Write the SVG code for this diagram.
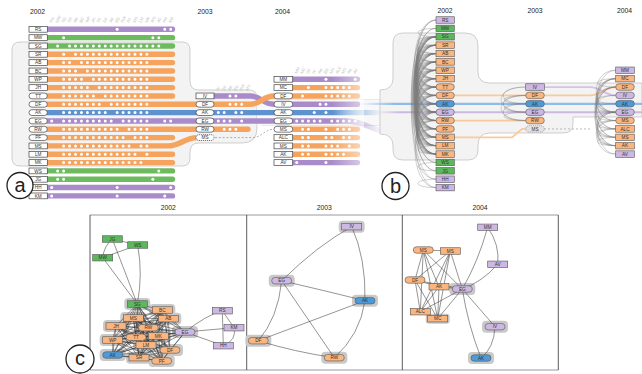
<svg xmlns="http://www.w3.org/2000/svg" width="642" height="374" viewBox="0 0 642 374">
<style>
text{font-family:"Liberation Sans",Arial,sans-serif}
.yr{font-size:6.8px;fill:#222}
.lb{font-size:4.7px;fill:#333;text-anchor:middle}
.cl{font-size:4px;fill:#b8b8b8}
.box{fill:#fff;stroke:#444;stroke-width:.7}
.bar{fill:none;stroke-width:5.4;stroke-linecap:round}
.pu{stroke:#a98bc9}.gr{stroke:#6dbb5e}.or{stroke:#f6a35e}.bl{stroke:#5d92cf}
.d1 path{fill:none;stroke:#fff;stroke-width:3;stroke-linecap:round;stroke-dasharray:0 5.95}
.d2 path{fill:none;stroke:#fff;stroke-width:3;stroke-linecap:round;stroke-dasharray:0 5.85}
.dots circle{fill:#fff}
.n{stroke:#555;stroke-width:.6}
.np{fill:#ccb8e2}.ng{fill:#5cb85c}.no{fill:#fbb57e}.nb{fill:#4e9ad9}
.halo rect{fill:#c9c9c9}
.arc{fill:none;stroke:#7a7a7a;stroke-width:.4;stroke-opacity:.85}
.edge{fill:none;stroke:#2a2a2a;stroke-width:.5}
.reg{fill:#f3f3f3;stroke:#bcbcbc;stroke-width:.7}
.circ{fill:#fff;stroke:#222;stroke-width:1.3}
.big{font-size:20px;fill:#222;text-anchor:middle}
.ln{fill:none}
</style>
<defs>
<linearGradient id="gAK" gradientUnits="userSpaceOnUse" x1="335" y1="0" x2="382" y2="0"><stop offset="0" stop-color="#5d92cf"/><stop offset="1" stop-color="#5d92cf" stop-opacity="0"/></linearGradient>
<linearGradient id="gEG" gradientUnits="userSpaceOnUse" x1="335" y1="0" x2="385" y2="0"><stop offset="0" stop-color="#a98bc9"/><stop offset="1" stop-color="#a98bc9" stop-opacity="0"/></linearGradient>
<linearGradient id="fw" x1="0" y1="0" x2="1" y2="0"><stop offset="0" stop-color="#fff" stop-opacity="0"/><stop offset="1" stop-color="#fff" stop-opacity=".6"/></linearGradient>
<linearGradient id="gAKb" gradientUnits="userSpaceOnUse" x1="360" y1="0" x2="395" y2="0"><stop offset="0" stop-color="#8fbbe6" stop-opacity="0"/><stop offset="1" stop-color="#8fbbe6"/></linearGradient>
<linearGradient id="gEGb" gradientUnits="userSpaceOnUse" x1="375" y1="0" x2="400" y2="0"><stop offset="0" stop-color="#cdb9e0" stop-opacity="0"/><stop offset="1" stop-color="#cdb9e0"/></linearGradient>
<path id="a1" d="M0,0C-24,0 -24,8.38 0,8.38"/>
<path id="a2" d="M0,0C-24,0 -24,16.76 0,16.76"/>
<path id="a3" d="M0,0C-25,0 -25,25.14 0,25.14"/>
<path id="a4" d="M0,0C-25,0 -25,33.52 0,33.52"/>
<path id="a5" d="M0,0C-26,0 -26,41.9 0,41.9"/>
<path id="a6" d="M0,0C-26,0 -26,50.28 0,50.28"/>
<path id="a7" d="M0,0C-27,0 -27,58.66 0,58.66"/>
<path id="a8" d="M0,0C-27,0 -27,67.04 0,67.04"/>
<path id="a9" d="M0,0C-28,0 -28,75.42 0,75.42"/>
<path id="a10" d="M0,0C-28,0 -28,83.8 0,83.8"/>
<path id="a11" d="M0,0C-29,0 -29,92.18 0,92.18"/>
<path id="a12" d="M0,0C-29,0 -29,100.56 0,100.56"/>
<path id="a13" d="M0,0C-30,0 -30,108.94 0,108.94"/>
<path id="a14" d="M0,0C-30,0 -30,117.32 0,117.32"/>
<path id="a15" d="M0,0C-31,0 -31,125.7 0,125.7"/>
<path id="a16" d="M0,0C-31,0 -31,134.08 0,134.08"/>
<path id="a17" d="M0,0C-32,0 -32,142.46 0,142.46"/>
<path id="a19" d="M0,0C-33,0 -33,159.22 0,159.22"/>
<path id="a20" d="M0,0C-33,0 -33,167.6 0,167.6"/>
<g id="f1"><use href="#a1"/></g>
<g id="f2"><use href="#f1"/><use href="#a2"/></g>
<g id="f3"><use href="#f2"/><use href="#a3"/></g>
<g id="f4"><use href="#f3"/><use href="#a4"/></g>
<g id="f5"><use href="#f4"/><use href="#a5"/></g>
<g id="f6"><use href="#f5"/><use href="#a6"/></g>
<g id="f7"><use href="#f6"/><use href="#a7"/></g>
<g id="f8"><use href="#f7"/><use href="#a8"/></g>
<g id="f9"><use href="#f8"/><use href="#a9"/></g>
<g id="f10"><use href="#f9"/><use href="#a10"/></g>
<g id="f11"><use href="#f10"/><use href="#a11"/></g>
<g id="f12"><use href="#f11"/><use href="#a12"/></g>
<g id="f13"><use href="#f12"/><use href="#a13"/></g>
<g id="f14"><use href="#f13"/><use href="#a14"/></g>
</defs>

<!-- ===== PANEL A ===== -->
<g id="panel-a">
<path class="reg" d="M20,42H182Q190,42 190,50V81Q190,90 199,90H249Q257,90 257,98V128Q257,143 242,143H199Q190,143 190,152V158Q190,166 182,166H20Q12,166 12,158V50Q12,42 20,42Z"/>
<rect x="257" y="99.5" width="125" height="26" fill="#f8f8f8"/>
<path d="M257,99.5H382M262,125.5H382" stroke="#dedede" stroke-width=".6" fill="none"/>
<text class="yr" x="30" y="14">2002</text>
<text class="yr" x="197.5" y="14">2003</text>
<text class="yr" x="275" y="14">2004</text>
<g id="a-collabels">
<text class="cl" transform="translate(51.7,23) rotate(-60)">RS</text>
<text class="cl" transform="translate(57.65,23) rotate(-60)">MW</text>
<text class="cl" transform="translate(63.6,23) rotate(-60)">SG</text>
<text class="cl" transform="translate(69.55,23) rotate(-60)">SR</text>
<text class="cl" transform="translate(75.5,23) rotate(-60)">AB</text>
<text class="cl" transform="translate(81.45,23) rotate(-60)">BC</text>
<text class="cl" transform="translate(87.4,23) rotate(-60)">WP</text>
<text class="cl" transform="translate(93.35,23) rotate(-60)">JH</text>
<text class="cl" transform="translate(99.3,23) rotate(-60)">TT</text>
<text class="cl" transform="translate(105.25,23) rotate(-60)">DF</text>
<text class="cl" transform="translate(111.2,23) rotate(-60)">AK</text>
<text class="cl" transform="translate(117.15,23) rotate(-60)">EG</text>
<text class="cl" transform="translate(123.1,23) rotate(-60)">RW</text>
<text class="cl" transform="translate(129.05,23) rotate(-60)">PF</text>
<text class="cl" transform="translate(135,23) rotate(-60)">MS</text>
<text class="cl" transform="translate(140.95,23) rotate(-60)">LM</text>
<text class="cl" transform="translate(146.9,23) rotate(-60)">MK</text>
<text class="cl" transform="translate(152.85,23) rotate(-60)">WS</text>
<text class="cl" transform="translate(158.8,23) rotate(-60)">JG</text>
<text class="cl" transform="translate(164.75,23) rotate(-60)">HH</text>
<text class="cl" transform="translate(170.7,23) rotate(-60)">KM</text>
<text class="cl" transform="translate(218.3,91) rotate(-60)">IV</text>
<text class="cl" transform="translate(224.15,91) rotate(-60)">DF</text>
<text class="cl" transform="translate(230,91) rotate(-60)">AK</text>
<text class="cl" transform="translate(235.85,91) rotate(-60)">EG</text>
<text class="cl" transform="translate(241.7,91) rotate(-60)">RW</text>
<text class="cl" transform="translate(247.55,91) rotate(-60)">MS</text>
<text class="cl" transform="translate(296.7,74) rotate(-60)">MM</text>
<text class="cl" transform="translate(302.55,74) rotate(-60)">MC</text>
<text class="cl" transform="translate(308.4,74) rotate(-60)">DF</text>
<text class="cl" transform="translate(314.25,74) rotate(-60)">IV</text>
<text class="cl" transform="translate(320.1,74) rotate(-60)">AK</text>
<text class="cl" transform="translate(325.95,74) rotate(-60)">EG</text>
<text class="cl" transform="translate(331.8,74) rotate(-60)">MS</text>
<text class="cl" transform="translate(337.65,74) rotate(-60)">ALC</text>
<text class="cl" transform="translate(343.5,74) rotate(-60)">MS</text>
<text class="cl" transform="translate(349.35,74) rotate(-60)">AK</text>
<text class="cl" transform="translate(355.2,74) rotate(-60)">AV</text>
</g>
<g id="a-connectors">
<path class="bar pu" d="M47,29.3H172.5M47,187.57H172.5M47,195.9H172.5M292,79.28H357.5M292,162.58H357.5"/>
<path class="bar gr" d="M47,37.63H172.5M47,45.96H172.5M47,170.91H172.5M47,179.24H172.5"/>
<path class="bar or" d="M47,54.29H172.5M47,62.62H172.5M47,70.95H172.5M47,79.28H172.5M47,87.61H172.5M47,95.94H172.5M47,137.59H172.5M47,154.25H172.5M47,162.58H172.5M292,87.61H357.5M292,129.26H357.5M292,137.59H357.5M292,145.92H357.5M292,154.25H357.5"/>
<path class="bar or" d="M47,129.26H248"/>
<path class="bar or" d="M47,145.92H168C180,145.92 185,137.59 197,137.59"/>
<path class="bar pu" d="M200,95.94H250C262,95.94 262,104.27 274,104.27H357.5"/>
<path class="bar or" d="M47,104.27H250C262,104.27 262,95.94 274,95.94H357.5"/>
<path class="bar" stroke="url(#gAK)" d="M47,112.6H382"/>
<path class="bar" stroke="url(#gEG)" d="M47,120.93H346C359,120.93 366,126 385,132.5"/>
<path d="M215,137.59H252C262,137.59 264,129.26 274,129.26" fill="none" stroke="#9a9a9a" stroke-width=".8" stroke-dasharray="2 1.8"/>
</g>
<g class="d1">
<path d="M164.75,29.3H170.85"/><path d="M152.85,37.63H158.9"/><path d="M69.55,45.96H158.9"/>
<path d="M75.5,54.29H147"/>
<path d="M63.6,62.62H69.65"/><path d="M81.45,62.62H147"/>
<path d="M63.6,70.95H75.6"/><path d="M87.4,70.95H147"/>
<path d="M63.6,79.28H81.55"/><path d="M93.35,79.28H147"/>
<path d="M63.6,87.61H87.5"/><path d="M99.3,87.61H147"/>
<path d="M63.6,95.94H93.45"/><path d="M105.25,95.94H147"/>
<path d="M63.6,104.27H99.4"/><path d="M111.2,104.27H147"/>
<path d="M63.6,112.6H105.35"/><path d="M117.15,112.6H147"/>
<path d="M63.6,120.93H111.3"/><path d="M123.1,120.93H147"/><path d="M164.75,120.93H170.85"/>
<path d="M63.6,129.26H117.25"/><path d="M129.05,129.26H147"/>
<path d="M63.6,137.59H123.2"/><path d="M135,137.59H147"/>
<path d="M63.6,145.92H129.15"/><path d="M140.95,145.92H147"/>
<path d="M63.6,154.25H135.1"/>
<path d="M63.6,162.58H141.05"/>
<path d="M57.65,170.91H63.7"/><path d="M57.65,179.24H63.7"/>
</g>
<g class="d2">
<path d="M230,95.94H235.95"/><path d="M230,104.27H241.8"/>
<path d="M218.3,112.6H224.25"/><path d="M235.85,112.6H241.8"/>
<path d="M218.3,120.93H230.1"/><path d="M224.15,129.26H235.95"/>
<path d="M325.95,87.61H349.45"/><path d="M325.95,95.94H349.45"/>
<path d="M320.1,104.27H326.05"/>
<path d="M296.7,120.93H320.2"/><path d="M331.8,120.93H355.3"/>
<path d="M302.55,129.26H308.5"/><path d="M337.65,129.26H349.45"/>
<path d="M302.55,137.59H308.5"/><path d="M343.5,137.59H349.45"/>
<path d="M302.55,145.92H308.5"/><path d="M331.8,145.92H337.75"/>
<path d="M302.55,154.25H308.5"/><path d="M331.8,154.25H343.6"/>
</g>
<g class="dots">
<circle cx="117.15" cy="29.3" r="1.5"/><circle cx="63.6" cy="37.63" r="1.5"/><circle cx="57.65" cy="45.96" r="1.5"/>
<circle cx="63.6" cy="54.29" r="1.5"/><circle cx="51.7" cy="120.93" r="1.5"/><circle cx="146.9" cy="154.25" r="1.5"/>
<circle cx="158.8" cy="170.91" r="1.5"/><circle cx="152.85" cy="179.24" r="1.5"/>
<circle cx="51.7" cy="187.57" r="1.5"/><circle cx="117.15" cy="187.57" r="1.5"/><circle cx="170.7" cy="187.57" r="1.5"/>
<circle cx="51.7" cy="195.9" r="1.5"/><circle cx="117.15" cy="195.9" r="1.5"/><circle cx="164.75" cy="195.9" r="1.5"/>
<circle cx="241.7" cy="120.93" r="1.5"/>
<circle cx="325.95" cy="79.28" r="1.5"/><circle cx="355.2" cy="79.28" r="1.5"/>
<circle cx="308.4" cy="87.61" r="1.5"/><circle cx="302.55" cy="95.94" r="1.5"/>
<circle cx="314.25" cy="112.6" r="1.5"/><circle cx="325.95" cy="112.6" r="1.5"/>
<circle cx="325.95" cy="129.26" r="1.5"/>
<circle cx="325.95" cy="137.59" r="1.5"/><circle cx="331.8" cy="137.59" r="1.5"/>
<circle cx="325.95" cy="145.92" r="1.5"/><circle cx="349.35" cy="145.92" r="1.5"/>
<circle cx="325.95" cy="154.25" r="1.5"/>
<circle cx="296.7" cy="162.58" r="1.5"/><circle cx="325.95" cy="162.58" r="1.5"/>
</g>
<rect x="332" y="74" width="32" height="94" fill="url(#fw)"/>
<!-- 2002 labels -->
<g id="a02-RS" transform="translate(29,29.3)"><rect class="box" y="-2.9" width="18.3" height="5.8"/><text class="lb" x="9.15" y="1.65">RS</text></g>
<g id="a02-MW" transform="translate(29,37.63)"><rect class="box" y="-2.9" width="18.3" height="5.8"/><text class="lb" x="9.15" y="1.65">MW</text></g>
<g id="a02-SG" transform="translate(29,45.96)"><rect class="box" y="-2.9" width="18.3" height="5.8"/><text class="lb" x="9.15" y="1.65">SG</text></g>
<g id="a02-SR" transform="translate(29,54.29)"><rect class="box" y="-2.9" width="18.3" height="5.8"/><text class="lb" x="9.15" y="1.65">SR</text></g>
<g id="a02-AB" transform="translate(29,62.62)"><rect class="box" y="-2.9" width="18.3" height="5.8"/><text class="lb" x="9.15" y="1.65">AB</text></g>
<g id="a02-BC" transform="translate(29,70.95)"><rect class="box" y="-2.9" width="18.3" height="5.8"/><text class="lb" x="9.15" y="1.65">BC</text></g>
<g id="a02-WP" transform="translate(29,79.28)"><rect class="box" y="-2.9" width="18.3" height="5.8"/><text class="lb" x="9.15" y="1.65">WP</text></g>
<g id="a02-JH" transform="translate(29,87.61)"><rect class="box" y="-2.9" width="18.3" height="5.8"/><text class="lb" x="9.15" y="1.65">JH</text></g>
<g id="a02-TT" transform="translate(29,95.94)"><rect class="box" y="-2.9" width="18.3" height="5.8" rx="2.9"/><text class="lb" x="9.15" y="1.65">TT</text></g>
<g id="a02-DF" transform="translate(29,104.27)"><rect class="box" y="-2.9" width="18.3" height="5.8" rx="2.9"/><text class="lb" x="9.15" y="1.65">DF</text></g>
<g id="a02-AK" transform="translate(29,112.6)"><rect class="box" y="-2.9" width="18.3" height="5.8" rx="2.9"/><text class="lb" x="9.15" y="1.65">AK</text></g>
<g id="a02-EG" transform="translate(29,120.93)"><rect class="box" y="-2.9" width="18.3" height="5.8" rx="2.9"/><text class="lb" x="9.15" y="1.65">EG</text></g>
<g id="a02-RW" transform="translate(29,129.26)"><rect class="box" y="-2.9" width="18.3" height="5.8" rx="2.9"/><text class="lb" x="9.15" y="1.65">RW</text></g>
<g id="a02-PF" transform="translate(29,137.59)"><rect class="box" y="-2.9" width="18.3" height="5.8" rx="2.9"/><text class="lb" x="9.15" y="1.65">PF</text></g>
<g id="a02-MS" transform="translate(29,145.92)"><rect class="box" y="-2.9" width="18.3" height="5.8"/><text class="lb" x="9.15" y="1.65">MS</text></g>
<g id="a02-LM" transform="translate(29,154.25)"><rect class="box" y="-2.9" width="18.3" height="5.8"/><text class="lb" x="9.15" y="1.65">LM</text></g>
<g id="a02-MK" transform="translate(29,162.58)"><rect class="box" y="-2.9" width="18.3" height="5.8"/><text class="lb" x="9.15" y="1.65">MK</text></g>
<g id="a02-WS" transform="translate(29,170.91)"><rect class="box" y="-2.9" width="18.3" height="5.8"/><text class="lb" x="9.15" y="1.65">WS</text></g>
<g id="a02-JG" transform="translate(29,179.24)"><rect class="box" y="-2.9" width="18.3" height="5.8"/><text class="lb" x="9.15" y="1.65">JG</text></g>
<g id="a02-HH" transform="translate(29,187.57)"><rect class="box" y="-2.9" width="18.3" height="5.8"/><text class="lb" x="9.15" y="1.65">HH</text></g>
<g id="a02-KM" transform="translate(29,195.9)"><rect class="box" y="-2.9" width="18.3" height="5.8"/><text class="lb" x="9.15" y="1.65">KM</text></g>
<!-- 2003 labels -->
<g id="a03-IV" transform="translate(196,95.94)"><rect class="box" y="-2.9" width="18" height="5.8"/><text class="lb" x="9" y="1.65">IV</text></g>
<g id="a03-DF" transform="translate(196,104.27)"><rect class="box" y="-2.9" width="18" height="5.8" rx="2.9"/><text class="lb" x="9" y="1.65">DF</text></g>
<g id="a03-AK" transform="translate(196,112.6)"><rect class="box" y="-2.9" width="18" height="5.8" rx="2.9"/><text class="lb" x="9" y="1.65">AK</text></g>
<g id="a03-EG" transform="translate(196,120.93)"><rect class="box" y="-2.9" width="18" height="5.8" rx="2.9"/><text class="lb" x="9" y="1.65">EG</text></g>
<g id="a03-RW" transform="translate(196,129.26)"><rect class="box" y="-2.9" width="18" height="5.8" rx="2.9"/><text class="lb" x="9" y="1.65">RW</text></g>
<g id="a03-MS" transform="translate(196,137.59)"><rect class="box" y="-2.9" width="18" height="5.8" rx="2.9" stroke-dasharray="1.2 .8"/><text class="lb" x="9" y="1.65">MS</text></g>
<!-- 2004 labels -->
<g id="a04-MM" transform="translate(274,79.28)"><rect class="box" y="-2.9" width="18.7" height="5.8"/><text class="lb" x="9.35" y="1.65">MM</text></g>
<g id="a04-MC" transform="translate(274,87.61)"><rect class="box" y="-2.9" width="18.7" height="5.8"/><text class="lb" x="9.35" y="1.65">MC</text></g>
<g id="a04-DF" transform="translate(274,95.94)"><rect class="box" y="-2.9" width="18.7" height="5.8" rx="2.9"/><text class="lb" x="9.35" y="1.65">DF</text></g>
<g id="a04-IV" transform="translate(274,104.27)"><rect class="box" y="-2.9" width="18.7" height="5.8" rx="2.9"/><text class="lb" x="9.35" y="1.65">IV</text></g>
<g id="a04-AK" transform="translate(274,112.6)"><rect class="box" y="-2.9" width="18.7" height="5.8" rx="2.9"/><text class="lb" x="9.35" y="1.65">AK</text></g>
<g id="a04-EG" transform="translate(274,120.93)"><rect class="box" y="-2.9" width="18.7" height="5.8" rx="2.9"/><text class="lb" x="9.35" y="1.65">EG</text></g>
<g id="a04-MS1" transform="translate(274,129.26)"><rect class="box" y="-2.9" width="18.7" height="5.8" rx="2.9"/><text class="lb" x="9.35" y="1.65">MS</text></g>
<g id="a04-ALC" transform="translate(274,137.59)"><rect class="box" y="-2.9" width="18.7" height="5.8"/><text class="lb" x="9.35" y="1.65">ALC</text></g>
<g id="a04-MS2" transform="translate(274,145.92)"><rect class="box" y="-2.9" width="18.7" height="5.8"/><text class="lb" x="9.35" y="1.65">MS</text></g>
<g id="a04-AK2" transform="translate(274,154.25)"><rect class="box" y="-2.9" width="18.7" height="5.8"/><text class="lb" x="9.35" y="1.65">AK</text></g>
<g id="a04-AV" transform="translate(274,162.58)"><rect class="box" y="-2.9" width="18.7" height="5.8"/><text class="lb" x="9.35" y="1.65">AV</text></g>
<g id="tag-a"><circle class="circ" cx="20" cy="185.5" r="13"/><text class="big" x="20" y="191.5">a</text></g>
</g>

<!-- ===== PANEL B ===== -->
<g id="panel-b">
<path class="reg" d="M403,33H465Q478,33 478,46V72Q478,83 490,83H642V117H573V124Q573,133 563,133H490Q478,133 478,145V150Q478,160 468,160H403Q393,160 393,150V146Q393,134 380,134V90Q393,90 393,78V43Q393,33 403,33Z"/>
<text class="yr" x="445" y="12.5" text-anchor="middle">2002</text>
<text class="yr" x="535" y="12.5" text-anchor="middle">2003</text>
<text class="yr" x="624.5" y="12.5" text-anchor="middle">2004</text>
<g id="b-connectors">
<path class="ln" stroke="url(#gAKb)" stroke-width="2.2" d="M360,103.8H642"/>
<path class="ln" stroke="url(#gEGb)" stroke-width="2" d="M375,112.18H642"/>
<path class="ln" stroke="#d4c3e6" stroke-width="1.8" d="M544,87.04H590C601,87.04 604,95.42 615.7,95.42"/>
<path class="ln" stroke="#fbc99a" stroke-width="1.8" d="M454,95.42H590C601,95.42 604,87.04 615.7,87.04"/>
<path class="ln" stroke="#fbc99a" stroke-width="1.8" d="M454,120.56H526"/>
<path class="ln" stroke="#fbc99a" stroke-width="1.8" d="M454,137.32H512L522,128.94H526"/>
<path class="ln" stroke="#aaa" stroke-width=".8" stroke-dasharray="2 2" d="M544,128.94H592"/>
<g class="arc" transform="translate(436,0)">
<use href="#f14" y="36.76"/><use href="#f13" y="45.14"/><use href="#f12" y="53.52"/><use href="#f11" y="61.9"/>
<use href="#f10" y="70.28"/><use href="#f9" y="78.66"/><use href="#f8" y="87.04"/><use href="#f7" y="95.42"/>
<use href="#f6" y="103.8"/><use href="#f5" y="112.18"/><use href="#f4" y="120.56"/><use href="#f3" y="128.94"/>
<use href="#f2" y="137.32"/><use href="#f1" y="145.7"/>
<use href="#a1" y="28.38"/><use href="#a16" y="28.38"/><use href="#a17" y="28.38"/>
<use href="#a15" y="36.76"/><use href="#a16" y="36.76"/><use href="#a1" y="162.46"/>
<use href="#a11" y="20"/><use href="#a19" y="20"/><use href="#a20" y="20"/>
<use href="#a8" y="112.18"/><use href="#a9" y="112.18"/><use href="#a1" y="179.22"/>
</g>
<g class="arc">
<path d="M525.7,87.04C495.7,87.04 495.7,103.8 525.7,103.8"/>
<path d="M525.7,87.04C493,87.04 493,112.18 525.7,112.18"/>
<path d="M525.7,95.42C497,95.42 497,103.8 525.7,103.8"/>
<path d="M525.7,95.42C495.7,95.42 495.7,112.18 525.7,112.18"/>
<path d="M525.7,95.42C493,95.42 493,120.56 525.7,120.56"/>
<path d="M525.7,103.8C497,103.8 497,112.18 525.7,112.18"/>
<path d="M525.7,103.8C495.7,103.8 495.7,120.56 525.7,120.56"/>
<path d="M525.7,112.18C497,112.18 497,120.56 525.7,120.56"/>
</g>
<g class="arc" transform="translate(615.7,0)">
<use href="#a5" y="70.28"/><use href="#a10" y="70.28"/>
<use href="#a1" y="78.66"/><use href="#a4" y="78.66"/><use href="#a5" y="78.66"/><use href="#a6" y="78.66"/><use href="#a7" y="78.66"/><use href="#a8" y="78.66"/>
<use href="#a3" y="87.04"/><use href="#a4" y="87.04"/><use href="#a5" y="87.04"/><use href="#a6" y="87.04"/><use href="#a7" y="87.04"/>
<use href="#a1" y="95.42"/><use href="#a2" y="95.42"/><use href="#a1" y="103.8"/>
<use href="#f5" y="112.18"/><use href="#f3" y="120.56"/><use href="#f2" y="128.94"/><use href="#f1" y="137.32"/>
</g>
</g>
<g id="b02-RS" transform="translate(436,20)"><rect class="n np" y="-3.25" width="18.3" height="6.5"/><text class="lb" x="9.15" y="1.7">RS</text></g>
<g id="b02-MW" transform="translate(436,28.38)"><rect class="n ng" y="-3.25" width="18.3" height="6.5"/><text class="lb" x="9.15" y="1.7">MW</text></g>
<g id="b02-SG" transform="translate(436,36.76)"><rect class="n ng" y="-3.25" width="18.3" height="6.5"/><text class="lb" x="9.15" y="1.7">SG</text></g>
<g id="b02-SR" transform="translate(436,45.14)"><rect class="n no" y="-3.25" width="18.3" height="6.5"/><text class="lb" x="9.15" y="1.7">SR</text></g>
<g id="b02-AB" transform="translate(436,53.52)"><rect class="n no" y="-3.25" width="18.3" height="6.5"/><text class="lb" x="9.15" y="1.7">AB</text></g>
<g id="b02-BC" transform="translate(436,61.9)"><rect class="n no" y="-3.25" width="18.3" height="6.5"/><text class="lb" x="9.15" y="1.7">BC</text></g>
<g id="b02-WP" transform="translate(436,70.28)"><rect class="n no" y="-3.25" width="18.3" height="6.5"/><text class="lb" x="9.15" y="1.7">WP</text></g>
<g id="b02-JH" transform="translate(436,78.66)"><rect class="n no" y="-3.25" width="18.3" height="6.5"/><text class="lb" x="9.15" y="1.7">JH</text></g>
<g id="b02-TT" transform="translate(436,87.04)"><rect class="n no" y="-3.25" width="18.3" height="6.5" rx="3.25"/><text class="lb" x="9.15" y="1.7">TT</text></g>
<g id="b02-DF" transform="translate(436,95.42)"><rect class="n no" y="-3.25" width="18.3" height="6.5" rx="3.25"/><text class="lb" x="9.15" y="1.7">DF</text></g>
<g id="b02-AK" transform="translate(436,103.8)"><rect class="n nb" y="-3.25" width="18.3" height="6.5" rx="3.25"/><text class="lb" x="9.15" y="1.7">AK</text></g>
<g id="b02-EG" transform="translate(436,112.18)"><rect class="n np" y="-3.25" width="18.3" height="6.5" rx="3.25"/><text class="lb" x="9.15" y="1.7">EG</text></g>
<g id="b02-RW" transform="translate(436,120.56)"><rect class="n no" y="-3.25" width="18.3" height="6.5" rx="3.25"/><text class="lb" x="9.15" y="1.7">RW</text></g>
<g id="b02-PF" transform="translate(436,128.94)"><rect class="n no" y="-3.25" width="18.3" height="6.5" rx="3.25"/><text class="lb" x="9.15" y="1.7">PF</text></g>
<g id="b02-MS" transform="translate(436,137.32)"><rect class="n no" y="-3.25" width="18.3" height="6.5"/><text class="lb" x="9.15" y="1.7">MS</text></g>
<g id="b02-LM" transform="translate(436,145.7)"><rect class="n no" y="-3.25" width="18.3" height="6.5"/><text class="lb" x="9.15" y="1.7">LM</text></g>
<g id="b02-MK" transform="translate(436,154.08)"><rect class="n no" y="-3.25" width="18.3" height="6.5"/><text class="lb" x="9.15" y="1.7">MK</text></g>
<g id="b02-WS" transform="translate(436,162.46)"><rect class="n ng" y="-3.25" width="18.3" height="6.5"/><text class="lb" x="9.15" y="1.7">WS</text></g>
<g id="b02-JG" transform="translate(436,170.84)"><rect class="n ng" y="-3.25" width="18.3" height="6.5"/><text class="lb" x="9.15" y="1.7">JG</text></g>
<g id="b02-HH" transform="translate(436,179.22)"><rect class="n np" y="-3.25" width="18.3" height="6.5"/><text class="lb" x="9.15" y="1.7">HH</text></g>
<g id="b02-KM" transform="translate(436,187.6)"><rect class="n np" y="-3.25" width="18.3" height="6.5"/><text class="lb" x="9.15" y="1.7">KM</text></g>
<g id="b03-IV" transform="translate(525.7,87.04)"><rect class="n np" y="-3.25" width="18.6" height="6.5"/><text class="lb" x="9.3" y="1.7">IV</text></g>
<g id="b03-DF" transform="translate(525.7,95.42)"><rect class="n no" y="-3.25" width="18.6" height="6.5" rx="3.25"/><text class="lb" x="9.3" y="1.7">DF</text></g>
<g id="b03-AK" transform="translate(525.7,103.8)"><rect class="n nb" y="-3.25" width="18.6" height="6.5" rx="3.25"/><text class="lb" x="9.3" y="1.7">AK</text></g>
<g id="b03-EG" transform="translate(525.7,112.18)"><rect class="n np" y="-3.25" width="18.6" height="6.5" rx="3.25"/><text class="lb" x="9.3" y="1.7">EG</text></g>
<g id="b03-RW" transform="translate(525.7,120.56)"><rect class="n no" y="-3.25" width="18.6" height="6.5" rx="3.25"/><text class="lb" x="9.3" y="1.7">RW</text></g>
<g id="b03-MS" transform="translate(525.7,128.94)"><rect y="-3.25" width="18.6" height="6.5" rx="3.25" fill="#e2e2e2" stroke="#888" stroke-width=".6" stroke-dasharray="1.2 .8"/><text class="lb" x="9.3" y="1.7">MS</text></g>
<g id="b04-MM" transform="translate(615.7,70.28)"><rect class="n np" y="-3.25" width="18.6" height="6.5"/><text class="lb" x="9.3" y="1.7">MM</text></g>
<g id="b04-MC" transform="translate(615.7,78.66)"><rect class="n no" y="-3.25" width="18.6" height="6.5"/><text class="lb" x="9.3" y="1.7">MC</text></g>
<g id="b04-DF" transform="translate(615.7,87.04)"><rect class="n no" y="-3.25" width="18.6" height="6.5" rx="3.25"/><text class="lb" x="9.3" y="1.7">DF</text></g>
<g id="b04-IV" transform="translate(615.7,95.42)"><rect class="n np" y="-3.25" width="18.6" height="6.5" rx="3.25"/><text class="lb" x="9.3" y="1.7">IV</text></g>
<g id="b04-AK" transform="translate(615.7,103.8)"><rect class="n nb" y="-3.25" width="18.6" height="6.5" rx="3.25"/><text class="lb" x="9.3" y="1.7">AK</text></g>
<g id="b04-EG" transform="translate(615.7,112.18)"><rect class="n np" y="-3.25" width="18.6" height="6.5" rx="3.25"/><text class="lb" x="9.3" y="1.7">EG</text></g>
<g id="b04-MS1" transform="translate(615.7,120.56)"><rect class="n no" y="-3.25" width="18.6" height="6.5" rx="3.25"/><text class="lb" x="9.3" y="1.7">MS</text></g>
<g id="b04-ALC" transform="translate(615.7,128.94)"><rect class="n no" y="-3.25" width="18.6" height="6.5"/><text class="lb" x="9.3" y="1.7">ALC</text></g>
<g id="b04-MS2" transform="translate(615.7,137.32)"><rect class="n no" y="-3.25" width="18.6" height="6.5"/><text class="lb" x="9.3" y="1.7">MS</text></g>
<g id="b04-AK2" transform="translate(615.7,145.7)"><rect class="n no" y="-3.25" width="18.6" height="6.5"/><text class="lb" x="9.3" y="1.7">AK</text></g>
<g id="b04-AV" transform="translate(615.7,154.08)"><rect class="n np" y="-3.25" width="18.6" height="6.5"/><text class="lb" x="9.3" y="1.7">AV</text></g>
<g id="tag-b"><circle class="circ" cx="395.5" cy="186" r="13.5"/><text class="big" x="395.5" y="193">b</text></g>
</g>

<!-- ===== PANEL C ===== -->
<g id="panel-c">
<path d="M90,215H558.3M90,370H558.3" stroke="#9a9a9a" stroke-width="1" fill="none"/>
<path d="M90,215V370M246.7,215V370M402.3,215V370M558.3,215V370" stroke="#333" stroke-width=".8" fill="none"/>
<text class="yr" x="168.3" y="209.5" text-anchor="middle">2002</text>
<text class="yr" x="324.3" y="209.5" text-anchor="middle">2003</text>
<text class="yr" x="480" y="209.5" text-anchor="middle">2004</text>
<g class="halo">
<rect x="124.3" y="298" width="26" height="12" rx="4"/><rect x="149.3" y="304" width="26" height="12" rx="4"/>
<rect x="120.3" y="312" width="26" height="12" rx="4"/><rect x="155.3" y="312.7" width="26" height="12" rx="4"/>
<rect x="103" y="320" width="26" height="12" rx="4"/><rect x="135.3" y="321.7" width="26" height="12" rx="4"/>
<rect x="99.7" y="334" width="26" height="12" rx="4"/><rect x="123" y="331.3" width="26" height="12" rx="4"/>
<rect x="145.3" y="330" width="26" height="12" rx="4"/><rect x="133" y="339" width="26" height="12" rx="4"/>
<rect x="157" y="344" width="26" height="12" rx="4"/><rect x="99.7" y="349" width="26" height="12" rx="4"/>
<rect x="126" y="351.7" width="26" height="12" rx="4"/><rect x="148.7" y="355" width="26" height="12" rx="4"/>
<rect x="172" y="326" width="26" height="12" rx="4"/>
<rect x="338.7" y="220.7" width="26" height="12" rx="4"/><rect x="268.7" y="274.7" width="26" height="12" rx="4"/>
<rect x="352" y="294.7" width="26" height="12" rx="4"/><rect x="245.3" y="334.7" width="26" height="12" rx="4"/>
<rect x="321.3" y="351.7" width="26" height="12" rx="4"/>
<rect x="449.3" y="283" width="26" height="12" rx="4"/><rect x="482" y="320.7" width="26" height="12" rx="4"/>
<rect x="468" y="352" width="26" height="12" rx="4"/><rect x="425.7" y="313.7" width="24" height="10" rx="3"/>
</g>
<g id="c-connectors" class="edge">
<path d="M185,332L137.3,304 139,357.7 158.3,336 168.3,318.7 146,345 162.3,310 133.3,318 112.7,340 161.7,361 116,326 148.3,327.7 136,337.3 112.7,355 170,350Z"/>
<path d="M185,332L139,357.7 168.3,318.7 137.3,304 162.3,310 158.3,336 112.7,340 146,345 116,326 133.3,318 136,337.3 161.7,361 170,350 148.3,327.7 112.7,355Z"/>
<path d="M185,332L168.3,318.7 162.3,310 139,357.7 112.7,340 137.3,304 116,326 158.3,336 136,337.3 146,345 170,350 133.3,318 112.7,355 161.7,361 148.3,327.7Z"/>
<path d="M185,332L162.3,310 112.7,340 168.3,318.7 116,326 139,357.7 136,337.3 137.3,304 170,350 158.3,336 112.7,355 146,345 148.3,327.7 133.3,318 161.7,361Z"/>
<path d="M185,332L112.7,340 116,326 162.3,310 136,337.3 168.3,318.7 170,350 139,357.7 112.7,355 137.3,304 148.3,327.7 158.3,336 161.7,361 146,345 133.3,318Z"/>
<path d="M185,332L116,326 136,337.3 112.7,340 170,350 162.3,310 112.7,355 168.3,318.7 148.3,327.7 139,357.7 161.7,361 137.3,304 133.3,318 158.3,336 146,345Z"/>
<path d="M185,332L136,337.3 170,350 116,326 112.7,355 112.7,340 148.3,327.7 162.3,310 161.7,361 168.3,318.7 133.3,318 139,357.7 146,345 137.3,304 158.3,336Z"/>
<path d="M112.3,239L137.7,245M112.3,239Q104,246 102.7,257.7M137.7,245L102.7,257.7M112.3,239L137.3,304M102.7,257.7L137.3,304M137.7,245Q143,275 137.3,304"/>
<path d="M222.3,310.7Q205,316 185,332M185,332L234,327.7M185,332L223.3,345.7M222.3,310.7L234,327.7M222.3,310.7L223.3,345.7M234,327.7Q237,340 223.3,345.7"/>
<path d="M351.7,226.7Q318,245 281.7,280.7M351.7,226.7Q366,258 365,300.7M281.7,280.7Q322,290 365,300.7M281.7,280.7Q278,318 258.3,340.7M281.7,280.7L334.3,357.7M365,300.7L258.3,340.7M365,300.7Q360,335 334.3,357.7M258.3,340.7Q295,352 334.3,357.7"/>
<path d="M462.3,289L423.3,250 450.3,251 437.7,318.7 415,280 420.3,311.7 439,286.7Z"/>
<path d="M462.3,289L450.3,251 415,280 423.3,250 439,286.7 437.7,318.7 420.3,311.7Z"/>
<path d="M462.3,289L415,280 439,286.7 450.3,251 420.3,311.7 423.3,250 437.7,318.7Z"/>
<path d="M487.7,227.3Q478,262 462.3,289M487.7,227.3Q500,245 497.7,264.3M497.7,264.3Q482,282 462.3,289M462.3,289L495,326.7M462.3,289Q468,325 481,358M495,326.7Q494,348 481,358"/>
</g>
<g id="c02-JG" transform="translate(112.3,239)"><rect class="n ng" x="-10" y="-3.25" width="20" height="6.5"/><text class="lb" y="1.7">JG</text></g>
<g id="c02-WS" transform="translate(137.7,245)"><rect class="n ng" x="-10" y="-3.25" width="20" height="6.5"/><text class="lb" y="1.7">WS</text></g>
<g id="c02-MW" transform="translate(102.7,257.7)"><rect class="n ng" x="-10" y="-3.25" width="20" height="6.5"/><text class="lb" y="1.7">MW</text></g>
<g id="c02-SG" transform="translate(137.3,304)"><rect class="n ng" x="-10" y="-3.25" width="20" height="6.5"/><text class="lb" y="1.7">SG</text></g>
<g id="c02-BC" transform="translate(162.3,310)"><rect class="n no" x="-10" y="-3.25" width="20" height="6.5"/><text class="lb" y="1.7">BC</text></g>
<g id="c02-MS" transform="translate(133.3,318)"><rect class="n no" x="-10" y="-3.25" width="20" height="6.5"/><text class="lb" y="1.7">MS</text></g>
<g id="c02-AB" transform="translate(168.3,318.7)"><rect class="n no" x="-10" y="-3.25" width="20" height="6.5"/><text class="lb" y="1.7">AB</text></g>
<g id="c02-JH" transform="translate(116,326)"><rect class="n no" x="-10" y="-3.25" width="20" height="6.5"/><text class="lb" y="1.7">JH</text></g>
<g id="c02-RW" transform="translate(148.3,327.7)"><rect class="n no" x="-10" y="-3.25" width="20" height="6.5" rx="3.25"/><text class="lb" y="1.7">RW</text></g>
<g id="c02-RS" transform="translate(222.3,310.7)"><rect class="n np" x="-10" y="-3.25" width="20" height="6.5"/><text class="lb" y="1.7">RS</text></g>
<g id="c02-KM" transform="translate(234,327.7)"><rect class="n np" x="-10" y="-3.25" width="20" height="6.5"/><text class="lb" y="1.7">KM</text></g>
<g id="c02-EG" transform="translate(185,332)"><rect class="n np" x="-10" y="-3.25" width="20" height="6.5" rx="3.25"/><text class="lb" y="1.7">EG</text></g>
<g id="c02-WP" transform="translate(112.7,340)"><rect class="n no" x="-10" y="-3.25" width="20" height="6.5"/><text class="lb" y="1.7">WP</text></g>
<g id="c02-TT" transform="translate(136,337.3)"><rect class="n no" x="-10" y="-3.25" width="20" height="6.5" rx="3.25"/><text class="lb" y="1.7">TT</text></g>
<g id="c02-MK" transform="translate(158.3,336)"><rect class="n no" x="-10" y="-3.25" width="20" height="6.5"/><text class="lb" y="1.7">MK</text></g>
<g id="c02-HH" transform="translate(223.3,345.7)"><rect class="n np" x="-10" y="-3.25" width="20" height="6.5"/><text class="lb" y="1.7">HH</text></g>
<g id="c02-LM" transform="translate(146,345)"><rect class="n no" x="-10" y="-3.25" width="20" height="6.5"/><text class="lb" y="1.7">LM</text></g>
<g id="c02-DF" transform="translate(170,350)"><rect class="n no" x="-10" y="-3.25" width="20" height="6.5" rx="3.25"/><text class="lb" y="1.7">DF</text></g>
<g id="c02-AK" transform="translate(112.7,355)"><rect class="n nb" x="-10" y="-3.25" width="20" height="6.5" rx="3.25"/><text class="lb" y="1.7">AK</text></g>
<g id="c02-SR" transform="translate(139,357.7)"><rect class="n no" x="-10" y="-3.25" width="20" height="6.5"/><text class="lb" y="1.7">SR</text></g>
<g id="c02-PF" transform="translate(161.7,361)"><rect class="n no" x="-10" y="-3.25" width="20" height="6.5" rx="3.25"/><text class="lb" y="1.7">PF</text></g>
<g id="c03-IV" transform="translate(351.7,226.7)"><rect class="n np" x="-10" y="-3.25" width="20" height="6.5"/><text class="lb" y="1.7">IV</text></g>
<g id="c03-EG" transform="translate(281.7,280.7)"><rect class="n np" x="-10" y="-3.25" width="20" height="6.5" rx="3.25"/><text class="lb" y="1.7">EG</text></g>
<g id="c03-AK" transform="translate(365,300.7)"><rect class="n nb" x="-10" y="-3.25" width="20" height="6.5" rx="3.25"/><text class="lb" y="1.7">AK</text></g>
<g id="c03-DF" transform="translate(258.3,340.7)"><rect class="n no" x="-10" y="-3.25" width="20" height="6.5" rx="3.25"/><text class="lb" y="1.7">DF</text></g>
<g id="c03-RW" transform="translate(334.3,357.7)"><rect class="n no" x="-10" y="-3.25" width="20" height="6.5" rx="3.25"/><text class="lb" y="1.7">RW</text></g>
<g id="c04-MM" transform="translate(487.7,227.3)"><rect class="n np" x="-10" y="-3.25" width="20" height="6.5"/><text class="lb" y="1.7">MM</text></g>
<g id="c04-MS1" transform="translate(423.3,250)"><rect class="n no" x="-10" y="-3.25" width="20" height="6.5" rx="3.25"/><text class="lb" y="1.7">MS</text></g>
<g id="c04-MS2" transform="translate(450.3,251)"><rect class="n no" x="-10" y="-3.25" width="20" height="6.5"/><text class="lb" y="1.7">MS</text></g>
<g id="c04-AV" transform="translate(497.7,264.3)"><rect class="n np" x="-10" y="-3.25" width="20" height="6.5"/><text class="lb" y="1.7">AV</text></g>
<g id="c04-DF" transform="translate(415,280)"><rect class="n no" x="-10" y="-3.25" width="20" height="6.5" rx="3.25"/><text class="lb" y="1.7">DF</text></g>
<g id="c04-AK2" transform="translate(439,286.7)"><rect class="n no" x="-10" y="-3.25" width="20" height="6.5"/><text class="lb" y="1.7">AK</text></g>
<g id="c04-EG" transform="translate(462.3,289)"><rect class="n np" x="-10" y="-3.25" width="20" height="6.5" rx="3.25"/><text class="lb" y="1.7">EG</text></g>
<g id="c04-ALC" transform="translate(420.3,311.7)"><rect class="n no" x="-10" y="-3.25" width="20" height="6.5"/><text class="lb" y="1.7">ALC</text></g>
<g id="c04-MC" transform="translate(437.7,318.7)"><rect class="n no" x="-10" y="-3.25" width="20" height="6.5"/><text class="lb" y="1.7">MC</text></g>
<g id="c04-IV" transform="translate(495,326.7)"><rect class="n np" x="-10" y="-3.25" width="20" height="6.5" rx="3.25"/><text class="lb" y="1.7">IV</text></g>
<g id="c04-AK" transform="translate(481,358)"><rect class="n nb" x="-10" y="-3.25" width="20" height="6.5" rx="3.25"/><text class="lb" y="1.7">AK</text></g>
<g id="tag-c"><circle class="circ" cx="80" cy="359" r="14"/><text class="big" x="80" y="365">c</text></g>
</g>
</svg>
